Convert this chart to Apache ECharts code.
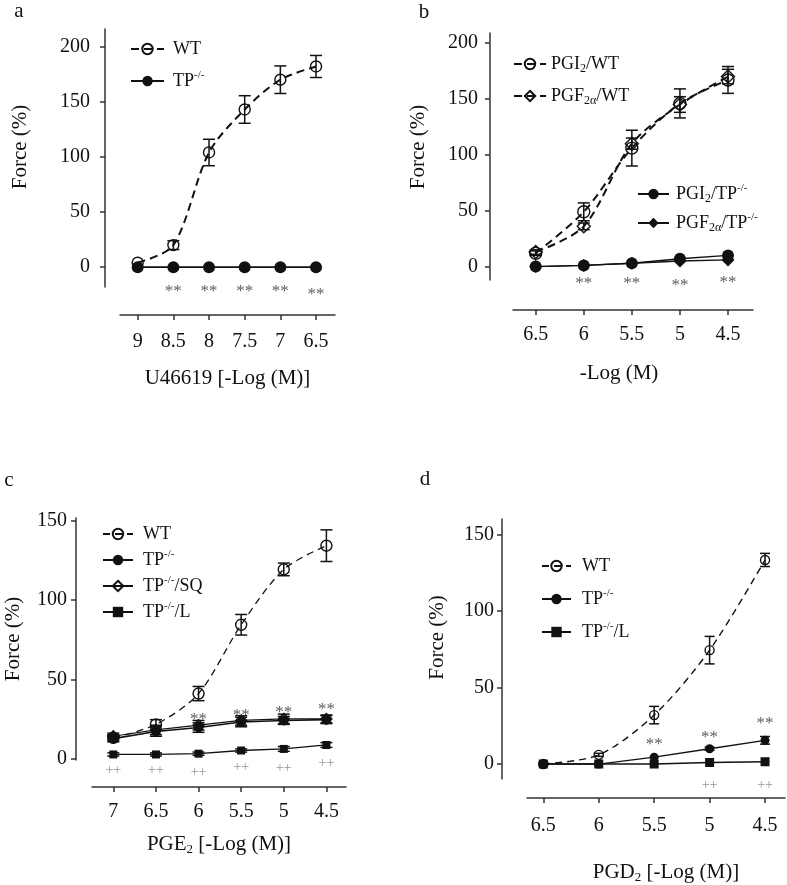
<!DOCTYPE html>
<html><head><meta charset="utf-8">
<script src="https://cdn.jsdelivr.net/npm/echarts@6/dist/echarts.min.js"></script>
<style>html,body{margin:0;padding:0;background:#fff}#c{width:787px;height:885px}</style>
</head><body><div id="c"></div>
<script>
const FONT = '"Liberation Serif", "Times New Roman", serif';

// ---------- Panel a ----------
const xA = [9, 8.5, 8, 7.5, 7, 6.5];
const wtA = [4, 20, 104, 143, 170, 182];
const wtAErr = [0, 4, 12, 12.5, 12.5, 10];
const tpA = [0, 0, 0, 0, 0, 0];
const starsAX = [8.5, 8, 7.5, 7, 6.5];
const starsAY = [-22.5, -22.5, -22.5, -22.5, -25];
const yTicksA = [0, 50, 100, 150, 200];

// ---------- Panel b ----------
const xB = [6.5, 6, 5.5, 5, 4.5];
const pgiWT = [12, 49, 106, 146, 167];
const pgiWTErr = [2, 8, 16, 13, 12];
const pgfWT = [13, 36, 110, 145, 170];
const pgfWTErr = [2, 3, 5, 7, 6.5];
const pgiTP = [0, 1, 3, 7, 10];
const pgfTP = [0, 1, 3, 5, 6];
const starsBX = [6, 5.5, 5, 4.5];
const starsBY = [-15.6, -15.6, -17.1, -14];
const yTicksB = [0, 50, 100, 150, 200];

// ---------- Panel c ----------
const xC = [7, 6.5, 6, 5.5, 5, 4.5];
const wtC = [13, 21.5, 41, 84.5, 119.5, 134.5];
const wtCErr = [2, 3, 4.5, 6.5, 4, 10];
const tpC = [12.5, 17, 19.5, 23, 24, 24.5];
const tpCErr = [2, 3, 3, 3, 2.5, 2.5];
const sqC = [14, 18, 21, 24, 25, 25];
const sqCErr = [2, 3, 3, 3, 3, 2.5];
const lC = [2.5, 2.5, 3, 5, 6, 8.5];
const lCErr = [1, 1, 1, 1, 1.5, 1.5];
const starsCX = [6, 5.5, 5, 4.5];
const starsCY = [24.9, 27.0, 29.3, 30.6];
const plusCX = [7, 6.5, 6, 5.5, 5, 4.5];
const plusCY = [-7.3, -7.3, -8.6, -5.4, -6.0, -2.9];
const yTicksC = [0, 50, 100, 150];

// ---------- Panel d ----------
const xD = [6.5, 6, 5.5, 5, 4.5];
const wtD = [0, 6, 32, 74.5, 133.5];
const wtDErr = [1, 1, 5.7, 9, 4.3];
const tpD = [0, 0, 4.5, 10, 15.5];
const tpDErr = [0, 0, 0, 1, 2.5];
const lD = [0, 0, 0, 1, 1.5];
const starsDX = [5.5, 5, 4.5];
const starsDY = [12.6, 17.4, 26.3];
const plusDX = [5, 4.5];
const plusDY = [-14.1, -13.7];
const yTicksD = [0, 50, 100, 150];

const LABELS = {
  'a:WT': 'WT', 'a:TP': 'TP{sup|-/-}',
  'b:PGI2/WT': 'PGI{sub|2}/WT', 'b:PGF/WT': 'PGF{sub|2α}/WT',
  'b:PGI2/TP': 'PGI{sub|2}/TP{sup|-/-}', 'b:PGF/TP': 'PGF{sub|2α}/TP{sup|-/-}',
  'c:WT': 'WT', 'c:TP': 'TP{sup|-/-}', 'c:SQ': 'TP{sup|-/-}/SQ', 'c:L': 'TP{sup|-/-}/L',
  'd:WT': 'WT', 'd:TP': 'TP{sup|-/-}', 'd:L': 'TP{sup|-/-}/L'
};

const zip = (xs, ys) => xs.map((x, i) => [x, ys[i]]);
const errData = (xs, ys, es) => xs.map((x, i) => [x, ys[i] - es[i], ys[i] + es[i]]).filter((d, i) => es[i] > 0);

function lineSeries(name, idx, xs, ys, o) {
  return {
    type: 'line', name, xAxisIndex: idx, yAxisIndex: idx, data: zip(xs, ys),
    symbol: o.symbol, symbolSize: o.size, smooth: o.smooth || false,
    lineStyle: { color: '#111', width: o.lw, type: o.dash || 'solid' },
    itemStyle: { color: o.fill ? '#111' : 'rgba(0,0,0,0)', borderColor: '#111', borderWidth: o.fill ? 0 : 1.4 },
    z: o.z || 2, animation: false, clip: false
  };
}
function errSeries(idx, xs, ys, es, cap) {
  return {
    type: 'custom', xAxisIndex: idx, yAxisIndex: idx, data: errData(xs, ys, es),
    encode: { x: 0, y: [1, 2] }, silent: true, z: 4, animation: false, clip: false,
    renderItem: function (params, api) {
      const x = api.value(0);
      const p1 = api.coord([x, api.value(1)]);
      const p2 = api.coord([x, api.value(2)]);
      const st = { stroke: '#111', lineWidth: 1.5 };
      return { type: 'group', children: [
        { type: 'line', shape: { x1: p1[0], y1: p1[1], x2: p2[0], y2: p2[1] }, style: st },
        { type: 'line', shape: { x1: p1[0] - cap, y1: p1[1], x2: p1[0] + cap, y2: p1[1] }, style: st },
        { type: 'line', shape: { x1: p2[0] - cap, y1: p2[1], x2: p2[0] + cap, y2: p2[1] }, style: st }
      ] };
    }
  };
}
function textSeries(idx, xs, ys, text, size, color) {
  return {
    type: 'scatter', xAxisIndex: idx, yAxisIndex: idx, data: zip(xs, ys),
    symbol: 'circle', symbolSize: 0, clip: false, silent: true, animation: false, z: 5,
    label: { show: true, position: 'inside', formatter: text, fontFamily: FONT, fontSize: size, color }
  };
}
const richSub = { fontFamily: FONT, fontSize: 12, lineHeight: 12, verticalAlign: 'bottom', color: '#111' };
const richSup = { fontFamily: FONT, fontSize: 11, lineHeight: 12, verticalAlign: 'top', color: '#111' };
function legend(names, left, top, gap, pad, w) {
  return {
    data: names, left, top, orient: 'vertical', itemWidth: w, itemHeight: 13, itemGap: gap, padding: 0,
    selectedMode: false, formatter: n => LABELS[n],
    textStyle: { fontFamily: FONT, fontSize: 18, color: '#111', lineHeight: 22, padding: [0, 0, 0, pad],
      rich: { sup: richSup, sub: richSub } }
  };
}
function xAxis(idx, min, max, ticks, name, offset, margin, nameGap, namePad) {
  return {
    type: 'value', gridIndex: idx, inverse: true, min, max, position: 'bottom', offset,
    axisLine: { show: true, onZero: false, lineStyle: { color: '#333', width: 1.5 } },
    axisTick: { show: true, customValues: ticks, length: 5, lineStyle: { color: '#333', width: 1.5 } },
    axisLabel: { customValues: ticks, margin, fontFamily: FONT, fontSize: 20, color: '#111' },
    splitLine: { show: false },
    name, nameLocation: 'middle', nameGap,
    nameTextStyle: { fontFamily: FONT, fontSize: 21, color: '#111', lineHeight: 24, padding: namePad || 0,
      rich: { sub: { fontFamily: FONT, fontSize: 13, lineHeight: 14, verticalAlign: 'bottom', color: '#111' } } }
  };
}
function yAxis(idx, min, max, ticks, offset, margin, nameGap, namePad) {
  return {
    type: 'value', gridIndex: idx, min, max, position: 'left', offset,
    axisLine: { show: true, onZero: false, lineStyle: { color: '#333', width: 1.5 } },
    axisTick: { show: true, customValues: ticks, length: 5, lineStyle: { color: '#333', width: 1.5 } },
    axisLabel: { customValues: ticks, margin, fontFamily: FONT, fontSize: 20, color: '#111' },
    splitLine: { show: false },
    name: 'Force (%)', nameLocation: 'middle', nameGap,
    nameTextStyle: { fontFamily: FONT, fontSize: 21, color: '#111', padding: namePad }
  };
}

const option = {
  animation: false,
  backgroundColor: '#fff',
  grid: [
    { left: 120, top: 29, width: 215, height: 258 },
    { left: 513, top: 33, width: 240, height: 247 },
    { left: 92, top: 518, width: 254, height: 242 },
    { left: 527, top: 519, width: 258, height: 261 }
  ],
  xAxis: [
    xAxis(0, 6.234, 9.248, xA, 'U46619 [-Log (M)]', 28, 17, 51),
    xAxis(1, 4.24, 6.736, xB, '-Log (M)', 30, 15, 51, [0, 28, 0, 0]),
    xAxis(2, 4.27, 7.25, xC, 'PGE{sub|2} [-Log (M)]', 27, 15, 45),
    xAxis(3, 4.32, 6.647, xD, 'PGD{sub|2} [-Log (M)]', 19, 18, 62, [0, 0, 0, 20])
  ],
  yAxis: [
    yAxis(0, -18, 216, yTicksA, 15, 15, 74, [0, 0, 0, 22]),
    yAxis(1, -12, 209, yTicksB, 23, 12, 61, [0, 0, 0, 19]),
    yAxis(2, -1, 152, yTicksC, 16, 9, 52, [0, 0, 0, 0]),
    yAxis(3, -9.8, 160.3, yTicksD, 25, 8, 54, [0, 0, 0, 23])
  ],
  legend: [
    legend(['a:WT', 'a:TP'], 130, 38, 10, 4, 33),
    legend(['b:PGI2/WT', 'b:PGF/WT'], 513, 53, 10, 0, 32),
    legend(['b:PGI2/TP', 'b:PGF/TP'], 637, 183, 7, 2, 31),
    legend(['c:WT', 'c:TP', 'c:SQ', 'c:L'], 102, 523, 4, 5, 30),
    legend(['d:WT', 'd:TP', 'd:L'], 541, 555, 11, 6, 29)
  ],
  graphic: [
    { type: 'text', x: 19, y: 11, style: { text: 'a', fontFamily: FONT, fontSize: 21, fill: '#111', align: 'center', verticalAlign: 'middle' } },
    { type: 'text', x: 424, y: 12, style: { text: 'b', fontFamily: FONT, fontSize: 21, fill: '#111', align: 'center', verticalAlign: 'middle' } },
    { type: 'text', x: 9, y: 480, style: { text: 'c', fontFamily: FONT, fontSize: 21, fill: '#111', align: 'center', verticalAlign: 'middle' } },
    { type: 'text', x: 425, y: 479, style: { text: 'd', fontFamily: FONT, fontSize: 21, fill: '#111', align: 'center', verticalAlign: 'middle' } }
  ],
  series: [
    // a
    lineSeries('a:WT', 0, xA, wtA, { symbol: 'circle', size: 11, lw: 2, dash: [8, 5], smooth: 0.3 }),
    lineSeries('a:TP', 0, xA, tpA, { symbol: 'circle', size: 12, lw: 1.6, fill: true, z: 3 }),
    errSeries(0, xA, wtA, wtAErr, 6),
    textSeries(0, starsAX, starsAY, '**', 17, '#333'),
    // b
    lineSeries('b:PGI2/WT', 1, xB, pgiWT, { symbol: 'circle', size: 12, lw: 2, dash: [8, 5], smooth: 0.3 }),
    lineSeries('b:PGF/WT', 1, xB, pgfWT, { symbol: 'diamond', size: 13, lw: 2, dash: [8, 5], smooth: 0.3 }),
    lineSeries('b:PGI2/TP', 1, xB, pgiTP, { symbol: 'circle', size: 12, lw: 1.3, fill: true, z: 3 }),
    lineSeries('b:PGF/TP', 1, xB, pgfTP, { symbol: 'diamond', size: 13, lw: 1.3, fill: true, z: 3 }),
    errSeries(1, xB, pgiWT, pgiWTErr, 6),
    errSeries(1, xB, pgfWT, pgfWTErr, 6),
    textSeries(1, starsBX, starsBY, '**', 17, '#333'),
    // c
    lineSeries('c:WT', 2, xC, wtC, { symbol: 'circle', size: 11, lw: 1.3, dash: [7, 5], smooth: 0.3 }),
    lineSeries('c:TP', 2, xC, tpC, { symbol: 'circle', size: 10, lw: 1.6, fill: true, z: 3 }),
    lineSeries('c:SQ', 2, xC, sqC, { symbol: 'diamond', size: 11, lw: 1.2, z: 3 }),
    lineSeries('c:L', 2, xC, lC, { symbol: 'rect', size: 8, lw: 1.3, fill: true, z: 3 }),
    errSeries(2, xC, wtC, wtCErr, 6),
    errSeries(2, xC, tpC, tpCErr, 6),
    errSeries(2, xC, sqC, sqCErr, 6),
    errSeries(2, xC, lC, lCErr, 6),
    textSeries(2, starsCX, starsCY, '**', 17, '#333'),
    textSeries(2, plusCX, plusCY, '++', 14, '#777'),
    // d
    lineSeries('d:WT', 3, xD, wtD, { symbol: 'circle', size: 9, lw: 1.4, dash: [7, 5], smooth: 0.3 }),
    lineSeries('d:TP', 3, xD, tpD, { symbol: 'circle', size: 9, lw: 1.3, fill: true, z: 3 }),
    lineSeries('d:L', 3, xD, lD, { symbol: 'rect', size: 9, lw: 1.3, fill: true, z: 3 }),
    errSeries(3, xD, wtD, wtDErr, 5),
    errSeries(3, xD, tpD, tpDErr, 5),
    textSeries(3, starsDX, starsDY, '**', 17, '#333'),
    textSeries(3, plusDX, plusDY, '++', 14, '#777')
  ]
};
const chart = echarts.init(document.getElementById('c'), null, { renderer: 'canvas' });
chart.setOption(option);
</script></body></html>
